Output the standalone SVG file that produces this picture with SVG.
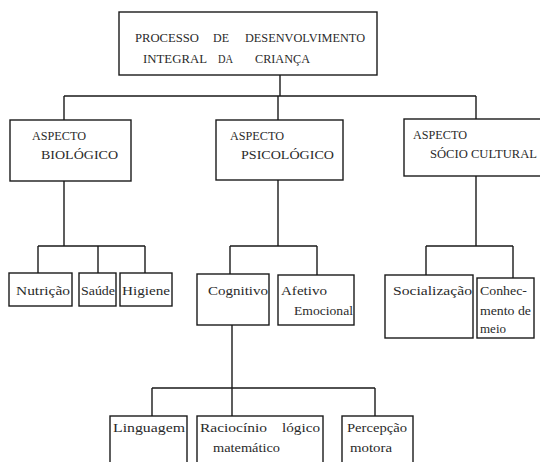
<svg xmlns="http://www.w3.org/2000/svg" width="540" height="462" viewBox="0 0 540 462">
<style>
.box{fill:none;stroke:#1a1a1a;stroke-width:1.4}
.c{fill:none;stroke:#1a1a1a;stroke-width:1.4}
.t1{font-family:"Liberation Serif","DejaVu Serif",serif;font-size:13px;fill:#2a2a2a}
.t2{font-family:"Liberation Serif","DejaVu Serif",serif;font-size:12.5px;fill:#2a2a2a}
.t3{font-family:"Liberation Serif","DejaVu Serif",serif;font-size:12.5px;fill:#2a2a2a}
</style>
<rect width="540" height="462" fill="#fff"/>
<g id="connectors">
<path class="c" d="M280 75V96M64 96H476M64 96V120M278 96V120M476 96V119"/>
<path class="c" d="M64 181V246M38 246H145M38 246V273M98 246V273M145 246V273"/>
<path class="c" d="M278 180V246M230 246H317M230 246V274M317 246V275"/>
<path class="c" d="M476 176V246M426 246H513M426 246V275M513 246V278"/>
<path class="c" d="M232 325V388M152 388H375M152 388V416M232 388V416M375 388V416"/>
</g>
<g id="root">
<rect class="box" x="119" y="12" width="258" height="63"/>
<text class="t1" y="42"><tspan x="135" textLength="64" lengthAdjust="spacingAndGlyphs">PROCESSO</tspan><tspan x="213" textLength="16" lengthAdjust="spacingAndGlyphs">DE</tspan><tspan x="245" textLength="120" lengthAdjust="spacingAndGlyphs">DESENVOLVIMENTO</tspan></text>
<text class="t1" y="63"><tspan x="143" textLength="64" lengthAdjust="spacingAndGlyphs">INTEGRAL</tspan><tspan x="218" textLength="15" lengthAdjust="spacingAndGlyphs">DA</tspan><tspan x="255" textLength="55" lengthAdjust="spacingAndGlyphs">CRIANÇA</tspan></text>
</g>
<g id="biologico">
<rect class="box" x="10" y="120" width="121" height="61"/>
<text class="t2" x="32" y="140" textLength="54" lengthAdjust="spacingAndGlyphs">ASPECTO</text>
<text class="t2" x="41" y="159" textLength="77" lengthAdjust="spacingAndGlyphs">BIOLÓGICO</text>
</g>
<g id="psicologico">
<rect class="box" x="216" y="120" width="127" height="60"/>
<text class="t2" x="230" y="140" textLength="54" lengthAdjust="spacingAndGlyphs">ASPECTO</text>
<text class="t2" x="241" y="159" textLength="93" lengthAdjust="spacingAndGlyphs">PSICOLÓGICO</text>
</g>
<g id="socio">
<rect class="box" x="404" y="119" width="140" height="57"/>
<text class="t2" x="413" y="139" textLength="54" lengthAdjust="spacingAndGlyphs">ASPECTO</text>
<text class="t2" x="430" y="158" textLength="107" lengthAdjust="spacingAndGlyphs">SÓCIO CULTURAL</text>
</g>
<g id="nutricao">
<rect class="box" x="9" y="273" width="63" height="33"/>
<text class="t3" x="16" y="295" textLength="54" lengthAdjust="spacingAndGlyphs">Nutrição</text>
</g>
<g id="saude">
<rect class="box" x="79" y="273" width="37" height="33"/>
<text class="t3" x="81" y="295" textLength="34" lengthAdjust="spacingAndGlyphs">Saúde</text>
</g>
<g id="higiene">
<rect class="box" x="120" y="273" width="52" height="33"/>
<text class="t3" x="122" y="295" textLength="48" lengthAdjust="spacingAndGlyphs">Higiene</text>
</g>
<g id="cognitivo">
<rect class="box" x="197" y="274" width="72" height="51"/>
<text class="t3" x="208" y="295" textLength="60" lengthAdjust="spacingAndGlyphs">Cognitivo</text>
</g>
<g id="afetivo">
<rect class="box" x="278" y="275" width="76" height="50"/>
<text class="t3" x="281" y="295" textLength="46" lengthAdjust="spacingAndGlyphs">Afetivo</text>
<text class="t3" x="294" y="315" textLength="59" lengthAdjust="spacingAndGlyphs">Emocional</text>
</g>
<g id="socializacao">
<rect class="box" x="385" y="275" width="88" height="63"/>
<text class="t3" x="393" y="295" textLength="79" lengthAdjust="spacingAndGlyphs">Socialização</text>
</g>
<g id="conhecimento">
<rect class="box" x="477" y="278" width="57" height="60"/>
<text class="t3" x="480" y="295" textLength="47" lengthAdjust="spacingAndGlyphs">Conhec-</text>
<text class="t3" x="480" y="315" textLength="51" lengthAdjust="spacingAndGlyphs">mento de</text>
<text class="t3" x="480" y="333" textLength="26" lengthAdjust="spacingAndGlyphs">meio</text>
</g>
<g id="linguagem">
<rect class="box" x="110" y="416" width="77" height="60"/>
<text class="t3" x="113" y="432" textLength="72" lengthAdjust="spacingAndGlyphs">Linguagem</text>
</g>
<g id="raciocinio">
<rect class="box" x="197" y="416" width="126" height="60"/>
<text class="t3" y="432"><tspan x="200" textLength="67" lengthAdjust="spacingAndGlyphs">Raciocínio</tspan><tspan x="282" textLength="38" lengthAdjust="spacingAndGlyphs">lógico</tspan></text>
<text class="t3" x="213" y="452" textLength="67" lengthAdjust="spacingAndGlyphs">matemático</text>
</g>
<g id="percepcao">
<rect class="box" x="342" y="416" width="71" height="60"/>
<text class="t3" x="347" y="432" textLength="60" lengthAdjust="spacingAndGlyphs">Percepção</text>
<text class="t3" x="350" y="452" textLength="42" lengthAdjust="spacingAndGlyphs">motora</text>
</g>
</svg>
